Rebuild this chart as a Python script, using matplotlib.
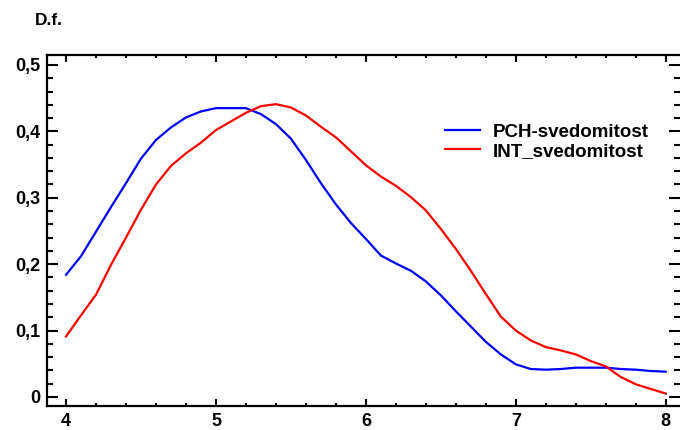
import matplotlib
matplotlib.use("Agg")
import matplotlib.pyplot as plt
from matplotlib.ticker import MultipleLocator, FuncFormatter

x_vals = [4.0, 4.1, 4.2, 4.3, 4.4, 4.5, 4.6, 4.7, 4.8, 4.9, 5.0, 5.1, 5.2, 5.3, 5.4, 5.5,
          5.6, 5.7, 5.8, 5.9, 6.0, 6.1, 6.2, 6.3, 6.4, 6.5, 6.6, 6.7, 6.8, 6.9, 7.0, 7.1,
          7.2, 7.3, 7.4, 7.5, 7.6, 7.7, 7.8, 7.9, 8.0]
pch = [0.184, 0.212, 0.249, 0.286, 0.322, 0.359, 0.387, 0.406, 0.421, 0.430, 0.435, 0.435,
       0.435, 0.426, 0.411, 0.389, 0.357, 0.322, 0.290, 0.262, 0.238, 0.213, 0.201, 0.190,
       0.174, 0.153, 0.129, 0.106, 0.083, 0.064, 0.049, 0.042, 0.041, 0.042, 0.044, 0.044,
       0.044, 0.042, 0.041, 0.039, 0.038]
intv = [0.091, 0.123, 0.154, 0.199, 0.240, 0.282, 0.320, 0.348, 0.367, 0.383, 0.402, 0.415,
        0.428, 0.438, 0.441, 0.436, 0.424, 0.407, 0.391, 0.370, 0.349, 0.332, 0.318, 0.301,
        0.281, 0.253, 0.223, 0.190, 0.155, 0.121, 0.100, 0.085, 0.075, 0.070, 0.064, 0.054,
        0.046, 0.030, 0.019, 0.012, 0.005]
series_names = ["PCH-svedomitost", "INT_svedomitost"]
y_label = "D.f."

plt.rcParams['font.family'] = ['Liberation Sans', 'DejaVu Sans']
plt.rcParams['font.weight'] = 'bold'

fig = plt.figure(figsize=(6.8, 4.3), dpi=100)
ax = fig.add_axes([0.0691, 0.056, 0.9309, 0.816])
ax.plot(x_vals, pch, color='#0000ff', lw=1.6, label=series_names[0])
ax.plot(x_vals, intv, color='#ff0000', lw=1.6, label=series_names[1])

ax.set_xlim(3.873, 8.095)
ax.set_ylim(-0.0136, 0.515)
ax.xaxis.set_major_locator(MultipleLocator(1))
ax.xaxis.set_minor_locator(MultipleLocator(0.2))
ax.yaxis.set_major_locator(MultipleLocator(0.1))
ax.yaxis.set_minor_locator(MultipleLocator(0.02))
ax.yaxis.set_major_formatter(FuncFormatter(lambda v, p: ('%g' % round(v, 2)).replace('.', ',')))

ax.tick_params(axis='both', which='both', direction='in', top=True, right=True, width=1.5)
ax.tick_params(axis='y', which='major', length=8, labelsize=13, pad=5)
ax.tick_params(axis='y', which='minor', length=4)
ax.tick_params(axis='x', which='major', length=5, labelsize=13, pad=5)
ax.tick_params(axis='x', which='minor', length=2.5)
for lab in ax.get_xticklabels() + ax.get_yticklabels():
    lab.set_fontweight('bold')
for s in ax.spines.values():
    s.set_linewidth(1.6)
ax.spines['right'].set_visible(False)

fig.text(0.052, 0.953, y_label, fontsize=12.5, fontweight='bold', ha='left', va='center')

leg = ax.legend(loc='upper left', bbox_to_anchor=(0.628, 0.805), frameon=False, fontsize=13.5,
                handlelength=1.9, handletextpad=0.65, labelspacing=0.1, borderaxespad=0,
                borderpad=0)
for t in leg.get_texts():
    t.set_fontweight('bold')

fig.savefig("out.png", dpi=100)
